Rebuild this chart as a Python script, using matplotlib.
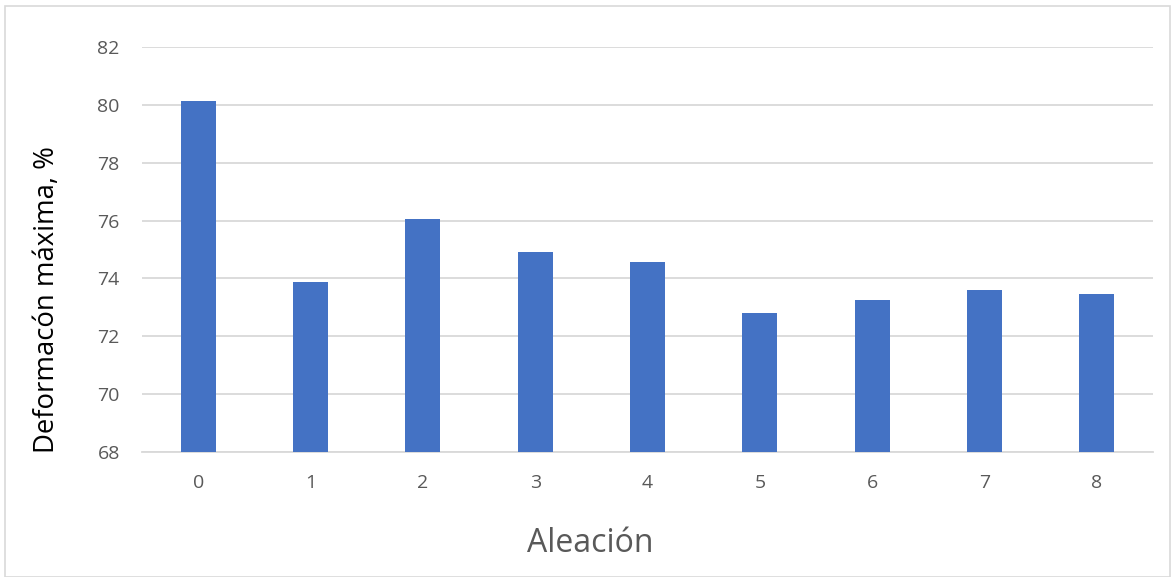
import matplotlib.pyplot as plt
from matplotlib.patches import Rectangle

# data
aleaciones = ['0', '1', '2', '3', '4', '5', '6', '7', '8']
deformacion = [80.15, 73.86, 76.06, 74.91, 74.55, 72.81, 73.26, 73.60, 73.47]
yticks = [68, 70, 72, 74, 76, 78, 80, 82]

plt.rcParams['font.family'] = ['Open Sans', 'DejaVu Sans']

fig = plt.figure(figsize=(11.71, 5.77), dpi=100)
ax = fig.add_axes([142/1171, 1 - 451.7/577, 1011/1171, (451.7 - 47.3)/577])

x = range(len(aleaciones))
ax.bar(x, deformacion, width=0.31, color='#4472C4', zorder=3)

ax.set_xlim(-0.5, len(aleaciones) - 0.5)
ax.set_ylim(68, 82)
ax.set_yticks(yticks)
ax.set_xticks(list(x))
ax.set_xticklabels(aleaciones)

ax.grid(axis='y', color='#d9d9d9', linewidth=1.3, zorder=0)
for s in ['top', 'right', 'left']:
    ax.spines[s].set_visible(False)
ax.spines['bottom'].set_color('#d9d9d9')
ax.spines['bottom'].set_linewidth(1.3)
ax.tick_params(axis='both', length=0, labelsize=14, colors='#595959', pad=16)

fig.text(0.504, 1 - 543/577, 'Aleación', ha='center', va='center',
         fontsize=23, color='#595959')
fig.text(47/1171, 1 - 300/577, 'Deformacón máxima, %', ha='center', va='center',
         rotation=90, fontsize=19.8, color='black')

# outer chart frame
fig.patches.append(Rectangle((5.5/1171, 0.5/577), 1164/1171, 571/577,
                             transform=fig.transFigure, fill=False,
                             edgecolor='#d9d9d9', linewidth=1.2))

fig.savefig('out.png', dpi=100)
